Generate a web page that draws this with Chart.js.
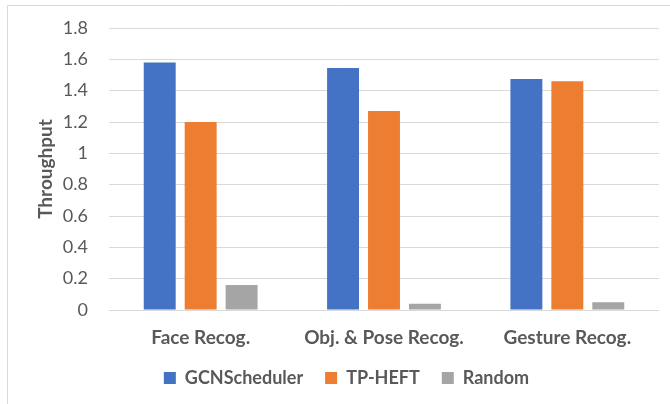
<!DOCTYPE html>
<html>
<head>
<meta charset="utf-8">
<script src="https://cdn.jsdelivr.net/npm/chart.js@4/dist/chart.umd.min.js"></script>
<style>
  html, body { margin: 0; padding: 0; background: #ffffff; }
  #wrap { position: relative; width: 670px; height: 404px; }
</style>
</head>
<body>
<div id="wrap"><canvas id="c" width="670" height="404"></canvas></div>
<script>
const categories = ["Face Recog.", "Obj. & Pose Recog.", "Gesture Recog."];
const seriesNames = ["GCNScheduler", "TP-HEFT", "Random"];
const gcnScheduler = [1.58, 1.545, 1.475];
const tpHeft = [1.2, 1.27, 1.46];
const randomSched = [0.16, 0.04, 0.05];
const yTickLabels = ["0", "0.2", "0.4", "0.6", "0.8", "1", "1.2", "1.4", "1.6", "1.8"];
const yTitle = "Throughput";

const FONT = "Lato, 'Open Sans', sans-serif";
const TEXT = "#595959";

const borderPlugin = {
  id: 'outerBorder',
  beforeDraw(chart) {
    const ctx = chart.ctx;
    ctx.save();
    ctx.fillStyle = '#ffffff';
    ctx.fillRect(0, 0, chart.width, chart.height);
    ctx.strokeStyle = '#d9d9d9';
    ctx.lineWidth = 1;
    ctx.beginPath();
    ctx.moveTo(7.5, chart.height + 2);
    ctx.lineTo(7.5, 5.5);
    ctx.lineTo(chart.width + 2, 5.5);
    ctx.stroke();
    ctx.restore();
  }
};

new Chart(document.getElementById('c'), {
  type: 'bar',
  data: {
    labels: categories,
    datasets: [
      { label: seriesNames[0], data: gcnScheduler, backgroundColor: '#4472C4' },
      { label: seriesNames[1], data: tpHeft, backgroundColor: '#ED7D31' },
      { label: seriesNames[2], data: randomSched, backgroundColor: '#A5A5A5' }
    ]
  },
  options: {
    responsive: false,
    animation: false,
    devicePixelRatio: 1,
    layout: { padding: { left: 34, right: 11, top: 28, bottom: 7 } },
    datasets: { bar: { barPercentage: 0.78, categoryPercentage: 0.67 } },
    plugins: {
      tooltip: { enabled: false },
      legend: {
        position: 'bottom',
        labels: {
          color: TEXT,
          font: { family: FONT, size: 18, weight: 'bold' },
          boxWidth: 12,
          boxHeight: 12,
          padding: 22
        }
      }
    },
    scales: {
      x: {
        grid: { display: false, drawTicks: false },
        border: { display: false },
        ticks: { color: TEXT, font: { family: FONT, size: 19, weight: 'bold' }, padding: 16, maxRotation: 0 },
        afterFit(scale) { scale.height = 37; }
      },
      y: {
        min: 0,
        max: 1.8,
        grid: { color: '#d9d9d9', lineWidth: 1, drawTicks: true, tickLength: 21, tickColor: 'rgba(0,0,0,0)' },
        border: { display: false },
        ticks: {
          stepSize: 0.2,
          color: TEXT,
          padding: 0,
          font: { family: FONT, size: 18 },
          callback(value) {
            const i = Math.round(value / 0.2);
            return yTickLabels[i];
          }
        },
        title: {
          display: true,
          text: yTitle,
          color: TEXT,
          font: { family: FONT, size: 19, weight: 'bold' },
          padding: { top: 0, bottom: 0 }
        },
        afterFit(scale) { scale.width = 75; }
      }
    }
  },
  plugins: [borderPlugin]
});
</script>
</body>
</html>
